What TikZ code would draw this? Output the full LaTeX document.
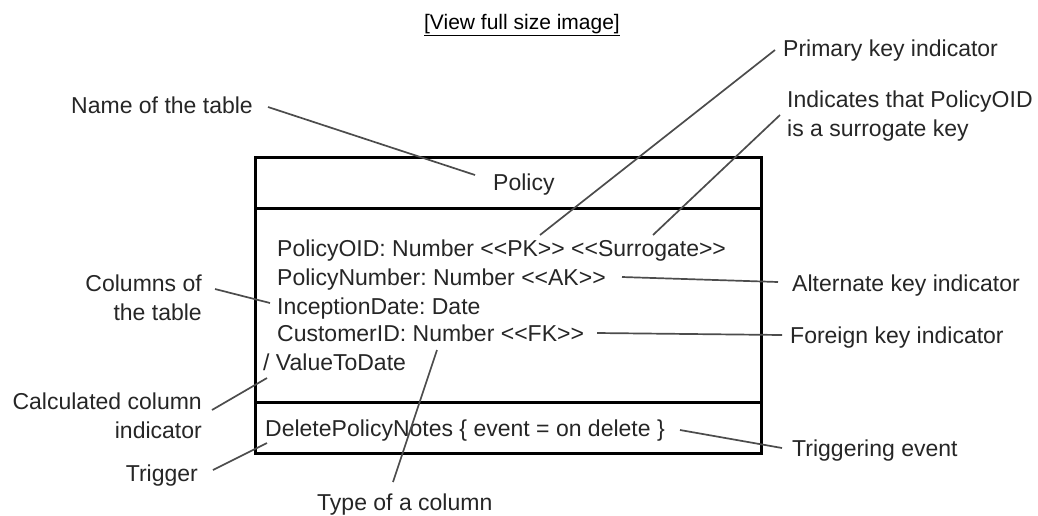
\documentclass[tikz,border=0pt]{standalone}
\usepackage{fontspec}
\setmainfont{Liberation Sans}[Ligatures=TeXOff]
\frenchspacing
\begin{document}
\begin{tikzpicture}[x=1pt,y=-1pt,
  txt/.style={inner sep=0pt,font=\fontsize{23}{28.5}\selectfont,text=black!85},
  lead/.style={draw=black!70,line width=1.7pt},
  boxline/.style={draw=black,line width=3pt}]
\useasboundingbox[fill=white] (0,0) rectangle (1038,515);
% header link
\node[txt,font=\fontsize{21}{24}\selectfont,text=black] (view) at (522,25) {\underline{[View full size image]}};
% table box
\coordinate (tl) at (255,157);
\coordinate (br) at (761,453);
\draw[boxline] (tl) rectangle (br);
\coordinate (s1l) at (255,208); \coordinate (s1r) at (761,208);
\coordinate (s2l) at (255,402); \coordinate (s2r) at (761,402);
\draw[boxline] (s1l) -- (s1r);
\draw[boxline] (s2l) -- (s2r);
% box texts
\node[txt,anchor=mid west] (policy) at (493,188) {Policy};
\node[txt,anchor=mid west] (r1) at (277,254) {PolicyOID: Number <<PK>> <<Surrogate>>};
\node[txt,anchor=mid west] (r2) at (277,283) {PolicyNumber: Number <<AK>>};
\node[txt,anchor=mid west] (r3) at (277,312) {InceptionDate: Date};
\node[txt,anchor=mid west] (r4) at (277,339) {CustomerID: Number <<FK>>};
\node[txt,anchor=mid west] (r5) at (263,368) {/ ValueToDate};
\node[txt,anchor=mid west] (r6) at (265,434) {DeletePolicyNotes \{ event = on delete \}};
% labels
\node[txt,anchor=mid west] (lpk) at (783,54) {Primary key indicator};
\node[txt,anchor=mid east] (lname) at (253,111) {Name of the table};
\node[txt,anchor=west,align=left] (lsur) at (787,116) {Indicates that PolicyOID\\is a surrogate key};
\node[txt,anchor=mid west] (lak) at (792,289) {Alternate key indicator};
\node[txt,anchor=mid west] (lfk) at (790,341) {Foreign key indicator};
\node[txt,anchor=mid west] (ltev) at (792,454) {Triggering event};
\node[txt,anchor=east,align=right] (lcols) at (202,298) {Columns of\\the table};
\node[txt,anchor=east,align=right] (lcalc) at (202,416) {Calculated column\\indicator};
\node[txt,anchor=mid east] (ltrig) at (198,479) {Trigger};
\node[txt,anchor=mid west] (ltype) at (317,508) {Type of a column};
% connector end points
\coordinate (a1) at (268,107); \coordinate (a2) at (475,175);
\coordinate (b1) at (775,50);  \coordinate (b2) at (540,235);
\coordinate (c1) at (780,115); \coordinate (c2) at (653,235);
\coordinate (d1) at (622,277); \coordinate (d2) at (778,282);
\coordinate (e1) at (597,333); \coordinate (e2) at (782,335);
\coordinate (f1) at (680,430); \coordinate (f2) at (782,448);
\coordinate (g1) at (215,289); \coordinate (g2) at (270,303);
\coordinate (h1) at (212,410); \coordinate (h2) at (267,378);
\coordinate (i1) at (213,470); \coordinate (i2) at (267,443);
\coordinate (j1) at (393,482); \coordinate (j2) at (437,350);
% connectors
\draw[lead] (a1) -- (a2);
\draw[lead] (b1) -- (b2);
\draw[lead] (c1) -- (c2);
\draw[lead] (d1) -- (d2);
\draw[lead] (e1) -- (e2);
\draw[lead] (f1) -- (f2);
\draw[lead] (g1) -- (g2);
\draw[lead] (h1) -- (h2);
\draw[lead] (i1) -- (i2);
\draw[lead] (j1) -- (j2);
\end{tikzpicture}
\end{document}
